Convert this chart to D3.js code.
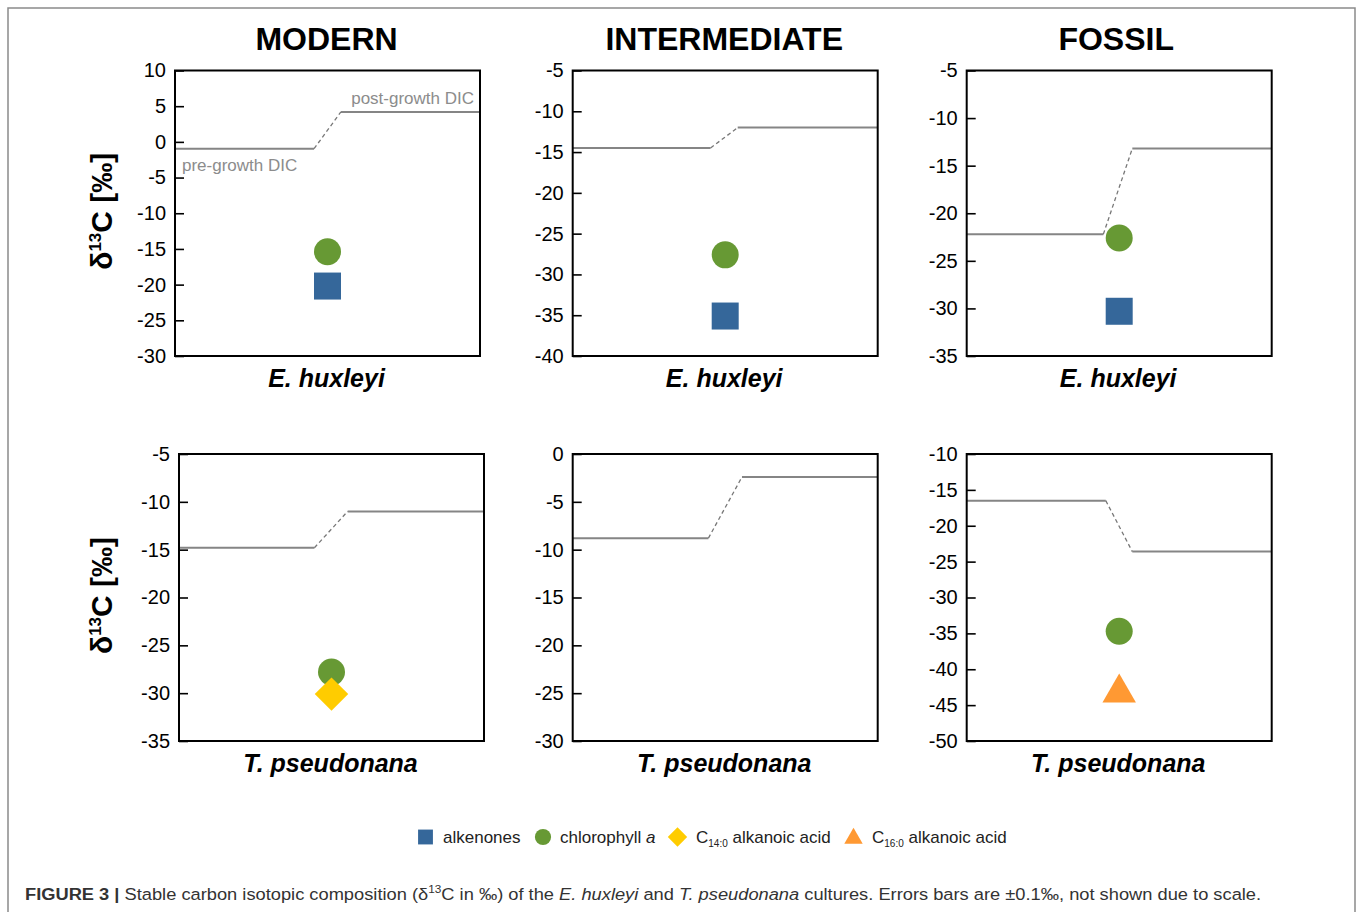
<!DOCTYPE html>
<html>
<head>
<meta charset="utf-8">
<script src="https://cdn.jsdelivr.net/npm/d3@7"></script>
<style>
  html, body { margin: 0; padding: 0; background: #fff; }
  svg { display: block; font-family: "Liberation Sans", Arial, sans-serif; }
</style>
</head>
<body>
<svg id="chart" width="1358" height="912"></svg>
<script>
// ---------- data ----------
const columns = ["MODERN", "INTERMEDIATE", "FOSSIL"];
const species = ["E. huxleyi", "T. pseudonana"];
// panels ordered: row 1 (E. huxleyi) modern, intermediate, fossil; row 2 (T. pseudonana)
const yMin = [-30, -40, -35, -35, -30, -50];
const yMax = [10, -5, -5, -5, 0, -10];
const preDIC = [-0.95, -14.5, -22.2, -14.8, -8.8, -16.5];
const postDIC = [4.2, -12.0, -13.2, -11.0, -2.4, -23.6];
const growthStart = [0.456, 0.452, 0.448, 0.444, 0.445, 0.456];
const growthEnd = [0.544, 0.541, 0.543, 0.553, 0.555, 0.543];
const alkenones = [-20.2, -35.1, -30.3, null, null, null];
const chlorophyll = [-15.4, -27.6, -22.6, -27.8, null, -34.7];
const c14Acid = [null, null, null, -30.1, null, null];
const c16Acid = [null, null, null, null, null, -43.3];

// ---------- layout ----------
const svg = d3.select("#chart");
const colLeft = [[175, 572.7, 966.7], [179, 572.7, 966.7]];
const panelW = 305;
const rowTop = [70.5, 454];
const rowBottom = [356, 741];

const seriesDefs = [
  { key: "alkenones", vals: alkenones, color: "#35679a", type: "square" },
  { key: "chlorophyll", vals: chlorophyll, color: "#679934", type: "circle" },
  { key: "c14", vals: c14Acid, color: "#ffcc00", type: "diamond" },
  { key: "c16", vals: c16Acid, color: "#ff9933", type: "triangle" }
];
function symbolPath(type, scale) {
  const s = scale || 1;
  if (type === "square") return d3.symbol(d3.symbolSquare, 729 * s * s)();
  if (type === "circle") return d3.symbol(d3.symbolCircle, Math.PI * 13.5 * 13.5 * s * s)();
  if (type === "diamond") return d3.symbol(d3.symbolSquare, 560 * s * s)();
  if (type === "triangle") return d3.symbol(d3.symbolTriangle, 485 * s * s)();
}

// outer figure frame
svg.append("rect").attr("x", 8).attr("y", 8).attr("width", 1347).attr("height", 940)
  .attr("fill", "none").attr("stroke", "#8a8a8a").attr("stroke-width", 1.5);

// column titles
columns.forEach((c, i) => {
  svg.append("text")
    .attr("x", colLeft[0][i] + panelW / 2 - (i === 2 ? 3 : 1)).attr("y", 50)
    .attr("text-anchor", "middle").attr("font-size", 32).attr("font-weight", "bold")
    .attr("fill", "#000").text(c);
});

for (let p = 0; p < 6; p++) {
  const row = Math.floor(p / 3), col = p % 3;
  const x0 = colLeft[row][col], x1 = x0 + panelW;
  const y0 = rowTop[row], y1 = rowBottom[row];
  const x = d3.scaleLinear().domain([0, 1]).range([x0, x1]);
  const y = d3.scaleLinear().domain([yMin[p], yMax[p]]).range([y1, y0]);
  const g = svg.append("g");

  // axis
  const ticks = d3.range(yMin[p], yMax[p] + 0.001, 5);
  const ax = g.append("g").attr("transform", `translate(${x0},0)`)
    .call(d3.axisLeft(y).tickValues(ticks).tickSize(-9).tickPadding(9).tickFormat(d => String(d)));
  ax.select(".domain").remove();
  ax.selectAll(".tick line").attr("stroke", "#000").attr("stroke-width", 1.6);
  ax.selectAll(".tick text").attr("font-size", 20).attr("fill", "#000")
    .attr("font-family", "Liberation Sans, Arial, sans-serif");

  // DIC line
  const gs = growthStart[p], ge = growthEnd[p];
  g.append("path")
    .attr("d", d3.line()([[x(0), y(preDIC[p])], [x(gs), y(preDIC[p])]]))
    .attr("stroke", "#858585").attr("stroke-width", 2).attr("fill", "none");
  g.append("path")
    .attr("d", d3.line()([[x(ge), y(postDIC[p])], [x(1), y(postDIC[p])]]))
    .attr("stroke", "#858585").attr("stroke-width", 2).attr("fill", "none");
  g.append("path")
    .attr("d", d3.line()([[x(gs), y(preDIC[p])], [x(ge), y(postDIC[p])]]))
    .attr("stroke", "#777").attr("stroke-width", 1.3).attr("stroke-dasharray", "4,3").attr("fill", "none");

  if (p === 0) {
    g.append("text").attr("x", x0 + 7).attr("y", y(preDIC[p]) + 22)
      .attr("font-size", 17).attr("fill", "#8c8c8c").text("pre-growth DIC");
    g.append("text").attr("x", x1 - 6).attr("y", y(postDIC[p]) - 8)
      .attr("text-anchor", "end").attr("font-size", 17).attr("fill", "#8c8c8c").text("post-growth DIC");
  }

  // points
  seriesDefs.forEach(s => {
    const v = s.vals[p];
    if (v === null || v === undefined) return;
    g.append("path")
      .attr("d", symbolPath(s.type))
      .attr("transform", `translate(${x(0.5)},${y(v)})` + (s.type === "diamond" ? " rotate(45)" : ""))
      .attr("fill", s.color);
  });

  // frame box
  g.append("rect").attr("x", x0).attr("y", y0).attr("width", panelW).attr("height", y1 - y0)
    .attr("fill", "none").attr("stroke", "#000").attr("stroke-width", 2);

  // species label
  g.append("text").attr("x", (x0 + x1) / 2 - 1).attr("y", y1 + 31)
    .attr("text-anchor", "middle").attr("font-size", 25).attr("font-weight", "bold")
    .attr("font-style", "italic").attr("fill", "#000").text(species[row]);

  // y axis title
  if (col === 0) {
    const t = svg.append("text")
      .attr("transform", `translate(112,${(y0 + y1) / 2 - 2}) rotate(-90)`)
      .attr("text-anchor", "middle").attr("font-size", 30).attr("font-weight", "bold").attr("fill", "#000");
    t.append("tspan").text("δ");
    t.append("tspan").attr("font-size", 17).attr("dy", -11).text("13");
    t.append("tspan").attr("dy", 11).text("C [‰]");
  }
}

// ---------- legend ----------
const legend = svg.append("g").attr("font-size", 17).attr("fill", "#222");
const legendItems = [
  { type: "square", color: "#35679a", cx: 425.5, tx: 443, parts: [["alkenones", null]] },
  { type: "circle", color: "#679934", cx: 543, tx: 560, parts: [["chlorophyll ", null], ["a", "italic"]] },
  { type: "diamond", color: "#ffcc00", cx: 677.5, tx: 696, parts: [["C", null], ["14:0", "sub"], [" alkanoic acid", "up"]] },
  { type: "triangle", color: "#ff9933", cx: 853.5, tx: 872, parts: [["C", null], ["16:0", "sub"], [" alkanoic acid", "up"]] }
];
const legendScale = { square: 0.55, circle: 0.6, diamond: 0.58, triangle: 0.55 };
legendItems.forEach(it => {
  legend.append("path").attr("d", symbolPath(it.type, legendScale[it.type]))
    .attr("transform", `translate(${it.cx},${it.type === "triangle" ? 838.5 : 837})` + (it.type === "diamond" ? " rotate(45)" : ""))
    .attr("fill", it.color);
  const t = legend.append("text").attr("x", it.tx).attr("y", 843);
  it.parts.forEach(([s, mode]) => {
    const ts = t.append("tspan").text(s);
    if (mode === "italic") ts.attr("font-style", "italic");
    if (mode === "sub") ts.attr("font-size", 10).attr("dy", 4);
    if (mode === "up") ts.attr("dy", -4);
  });
});

// ---------- caption ----------
const cap = svg.append("text").attr("x", 25).attr("y", 900).attr("font-size", 17).attr("fill", "#333");
cap.append("tspan").attr("font-weight", "bold").text("FIGURE 3 | ");
cap.append("tspan").text("Stable carbon isotopic composition (δ");
cap.append("tspan").attr("font-size", 11).attr("dy", -7).text("13");
cap.append("tspan").attr("dy", 7).text("C in ‰) of the ");
cap.append("tspan").attr("font-style", "italic").text("E. huxleyi");
cap.append("tspan").text(" and ");
cap.append("tspan").attr("font-style", "italic").text("T. pseudonana");
cap.append("tspan").text(" cultures. Errors bars are ±0.1‰, not shown due to scale.");
const w = cap.node().getComputedTextLength();
const targetW = 1237;
cap.attr("transform", `translate(25,0) scale(${targetW / w},1) translate(-25,0)`);
</script>
</body>
</html>
